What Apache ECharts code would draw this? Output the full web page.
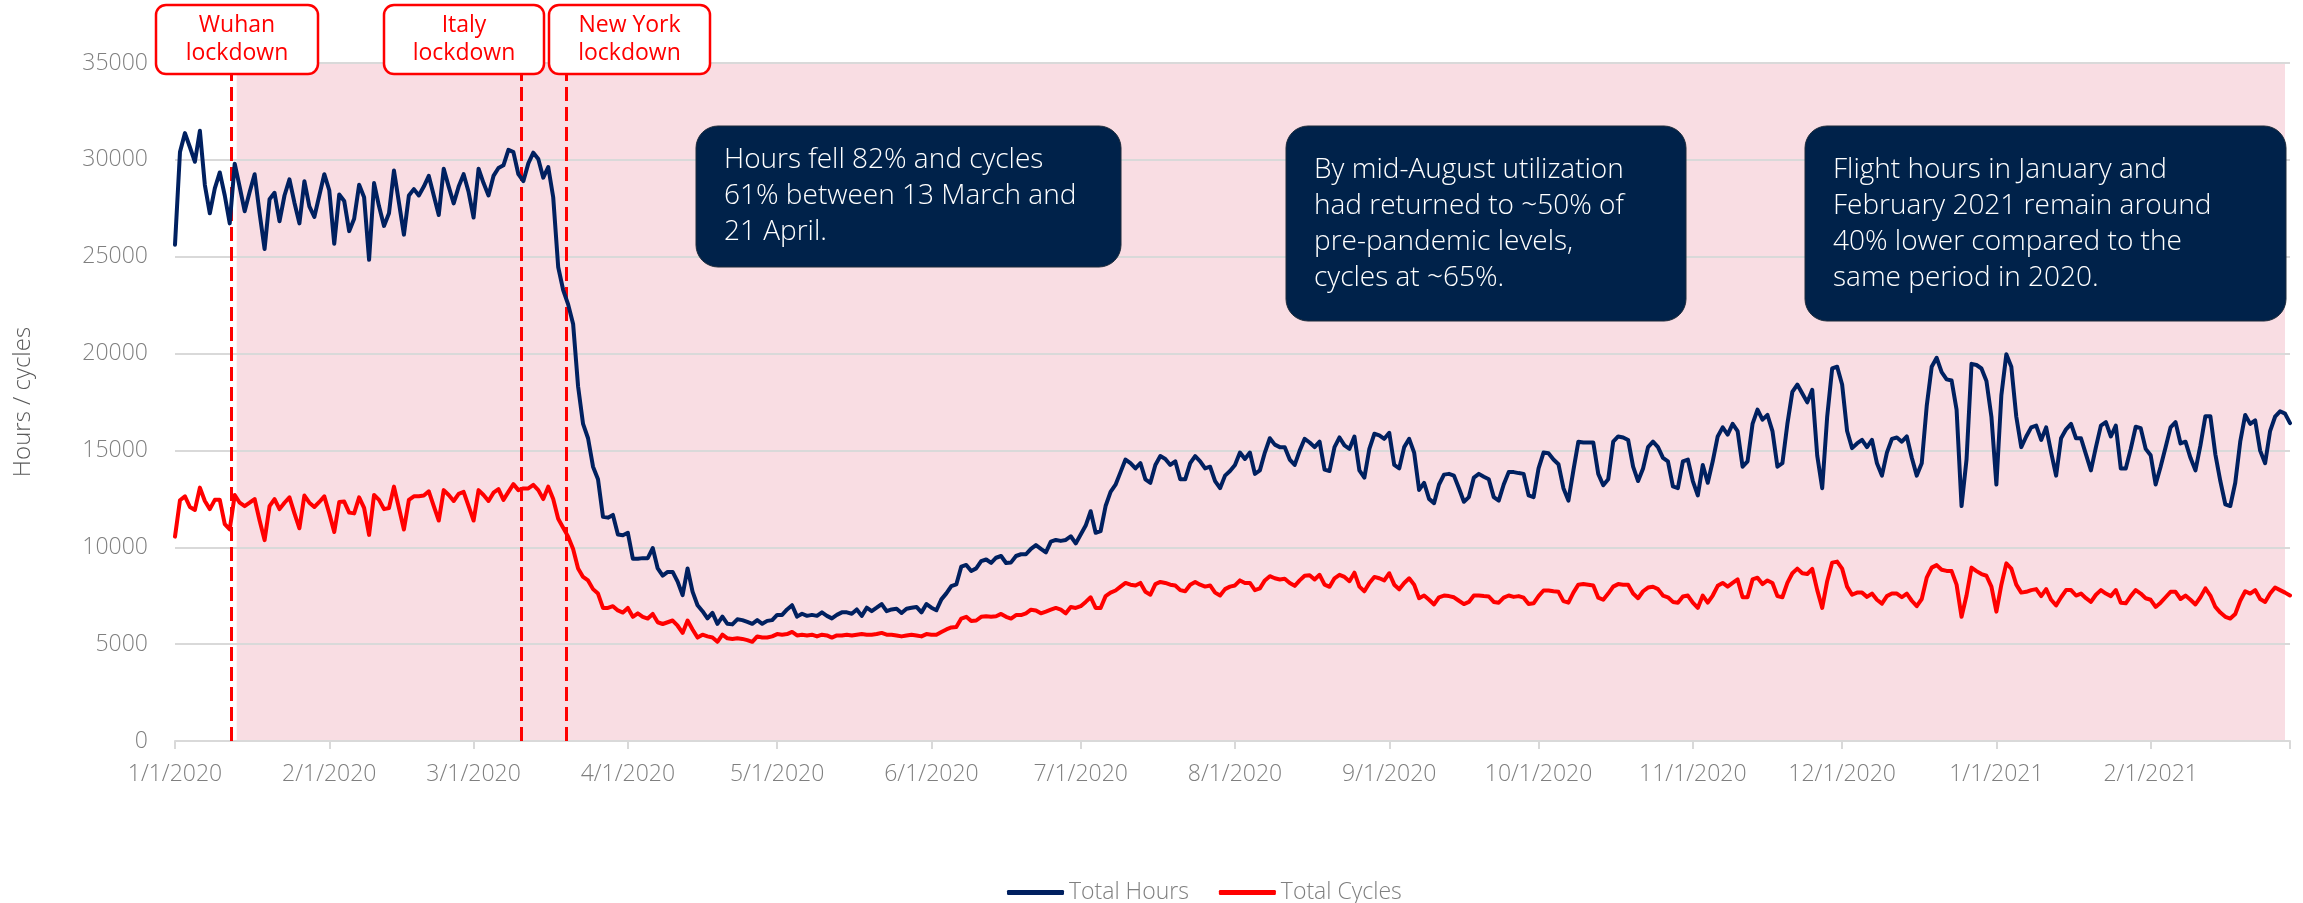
<!DOCTYPE html>
<html>
<head>
<meta charset="utf-8">
<title>Total Hours / Total Cycles</title>
<script src="https://cdn.jsdelivr.net/npm/echarts@6/dist/echarts.min.js"></script>
<style>
  html, body { margin: 0; padding: 0; background: #fff; }
  #main { width: 2303px; height: 903px; }
</style>
</head>
<body>
<div id="main"></div>
<script>
// 每日数据，第 0 天 = 2020-01-01
const hoursData = [
  25620, 30400, 31380, 30650, 29900, 31500, 28700, 27240, 28530, 29350, 28160, 26720, 29800, 28600, 27350, 28340,
  29260, 27240, 25400, 27970, 28300, 26830, 28160, 28990, 27790, 26720, 28900, 27600, 27050, 28160, 29260, 28430,
  25670, 28210, 27880, 26320, 26960, 28710, 28070, 24840, 28800, 27600, 26590, 27240, 29450, 27790, 26140, 28160,
  28490, 28160, 28620, 29170, 28160, 27150, 29540, 28620, 27750, 28620, 29260, 28340, 27020, 29540, 28800, 28160,
  29170, 29580, 29720, 30520, 30400, 29260, 28900,
  29820, 30370, 30040, 29080, 29630, 28070, 24470, 23280, 22540, 21530, 18300, 16370, 15630, 14160, 13510, 11580,
  11530, 11670, 10660, 10620, 10750, 9410, 9410, 9440, 9440, 9960, 8910, 8540, 8730, 8730, 8230, 7530,
  8910, 7710, 7010, 6700, 6330, 6610, 6050, 6420, 6050, 6020, 6280, 6240, 6150, 6050, 6240, 6050,
  6200, 6240, 6510, 6510, 6790, 7010, 6420, 6570, 6460, 6510, 6460, 6640, 6460, 6330, 6510, 6640,
  6640, 6570, 6790, 6460, 6880, 6700, 6880, 7070, 6700,
  6790, 6830, 6610, 6830, 6880, 6920, 6640, 7070, 6880, 6750, 7310, 7620, 7990, 8080, 9000, 9090,
  8780, 8910, 9280, 9370, 9190, 9460, 9550, 9190, 9220, 9550, 9640, 9640, 9920, 10110, 9920, 9740,
  10290, 10380, 10330, 10380, 10570, 10200, 10660, 11120, 11860, 10750, 10840, 12130, 12860, 13230, 13880, 14530,
  14340, 14070, 14340, 13510, 13330, 14250, 14710, 14560, 14250, 14440, 13510, 13510, 14340, 14710, 14440, 14070,
  14160, 13420, 13050, 13700, 13940, 14250, 14890,
  14560, 14890, 13790, 13970, 14890, 15630, 15300, 15170, 15170, 14530, 14250, 14990, 15600, 15410, 15170, 15450,
  14010, 13940, 15170, 15670, 15260, 15080, 15720, 13970, 13600, 15080, 15860, 15780, 15600, 15910, 14250, 14070,
  15170, 15600, 14890, 12960, 13330, 12500, 12280, 13240, 13750, 13790, 13700, 13050, 12350, 12590, 13600, 13790,
  13640, 13510, 12590, 12410, 13240, 13880, 13880, 13830, 13790, 12680, 12590, 14070, 14890, 14850, 14530, 14290,
  13050, 12410, 13970, 15450, 15410, 15410, 15410, 13790, 13200, 13510,
  15450, 15720, 15670, 15540, 14160, 13420, 14070, 15170, 15450, 15170, 14620, 14440, 13140, 13050, 14440, 14530,
  13420, 12680, 14250, 13330, 14440, 15720, 16190, 15820, 16370, 16000, 14160, 14440, 16370, 17110, 16590, 16830,
  16000, 14160, 14340, 16370, 18020, 18400, 17940, 17480, 18130, 14730, 13050, 16740, 19230, 19320, 18400, 16000,
  15120, 15360, 15540, 15170, 15540, 14340, 13700, 14890, 15600, 15670, 15450, 15720, 14620, 13700, 14340, 17290,
  19320, 19780, 19040, 18670, 18610, 17110,
  12130, 14530, 19470, 19410, 19230, 18580, 16740, 13240, 17850, 19960, 19320, 16740, 15170, 15720, 16190, 16280,
  15540, 16190, 14900, 13700, 15630, 16090, 16370, 15630, 15630, 14800, 13970, 15170, 16280, 16460, 15720, 16280,
  14070, 14070, 15080, 16220, 16150, 15080, 14750, 13240, 14160, 15170, 16190, 16460, 15360, 15450, 14620, 13970,
  15260, 16770, 16770, 14800, 13420, 12220, 12130, 13330, 15450, 16830, 16370, 16550, 14990, 14340, 16000, 16740,
  17020, 16900, 16410
]
const cyclesData = [
  10550, 12430, 12630, 12080, 11930, 13080, 12390, 11970, 12450, 12450, 11200, 10920, 12700, 12300, 12120, 12300,
  12490, 11380, 10370, 12120, 12490, 11970, 12300, 12580, 11750, 10980, 12670, 12300, 12080, 12340, 12630, 11750,
  10790, 12340, 12360, 11790, 11750, 12580, 12030, 10640, 12700, 12450, 11970, 12030, 13130, 12030, 10920, 12450,
  12630, 12630, 12670, 12890, 12120, 11380, 12950, 12700, 12390, 12760, 12860, 12120, 11380, 12950, 12700, 12390,
  12820, 13000, 12450, 12860, 13260, 12950, 13040,
  13040, 13220, 12950, 12490, 13130, 12490, 11470, 11010, 10550, 9910, 8900, 8470, 8290, 7840, 7610, 6870,
  6870, 6960, 6740, 6630, 6870, 6410, 6590, 6410, 6320, 6560, 6130, 6040, 6130, 6220, 5950, 5580,
  6220, 5760, 5340, 5490, 5400, 5340, 5120, 5490, 5300, 5270, 5300, 5270, 5210, 5120, 5400, 5340,
  5340, 5400, 5520, 5490, 5520, 5630, 5450, 5490, 5450, 5490, 5400, 5490, 5450, 5340, 5450, 5450,
  5490, 5450, 5490, 5520, 5490, 5490, 5520, 5580, 5490,
  5490, 5450, 5400, 5450, 5490, 5450, 5400, 5520, 5490, 5490, 5630, 5760, 5860, 5890, 6320, 6410,
  6190, 6220, 6410, 6440, 6410, 6440, 6560, 6410, 6320, 6500, 6500, 6590, 6780, 6740, 6590, 6680,
  6780, 6870, 6780, 6590, 6920, 6870, 6960, 7180, 7420, 6870, 6870, 7480, 7660, 7770, 7970, 8160,
  8070, 8030, 8160, 7700, 7550, 8100, 8210, 8160, 8070, 8030, 7790, 7730, 8070, 8210, 8070, 7970,
  8030, 7660, 7510, 7840, 7970, 8030, 8290,
  8160, 8160, 7790, 7880, 8290, 8510, 8400, 8340, 8380, 8160, 8010, 8290, 8530, 8560, 8340, 8580,
  8070, 7960, 8400, 8580, 8470, 8250, 8690, 7970, 7730, 8160, 8470, 8400, 8290, 8660, 8070, 7830,
  8160, 8400, 8070, 7370, 7510, 7290, 7050, 7420, 7510, 7480, 7420, 7240, 7070, 7180, 7510, 7510,
  7480, 7460, 7180, 7140, 7400, 7510, 7440, 7480, 7400, 7070, 7110, 7480, 7770, 7770, 7730, 7700,
  7220, 7140, 7660, 8070, 8100, 8070, 8030, 7400, 7290, 7610,
  7970, 8100, 8070, 8070, 7610, 7370, 7730, 7920, 7960, 7840, 7510, 7420, 7180, 7140, 7460, 7510,
  7140, 6870, 7510, 7140, 7510, 8010, 8160, 7970, 8160, 8340, 7420, 7420, 8340, 8430, 8100, 8290,
  8160, 7480, 7420, 8160, 8660, 8900, 8660, 8620, 8880, 7790, 6870, 8250, 9210, 9260, 8900, 7970,
  7550, 7660, 7660, 7440, 7610, 7290, 7090, 7480, 7610, 7610, 7420, 7610, 7240, 6960, 7330, 8430,
  8950, 9080, 8840, 8780, 8770, 8070,
  6410, 7510, 8950, 8770, 8620, 8530, 7970, 6680, 8070, 9170, 8900, 8070, 7660, 7700, 7790, 7840,
  7480, 7840, 7290, 7000, 7420, 7790, 7790, 7510, 7610, 7370, 7180, 7550, 7790, 7610, 7480, 7790,
  7140, 7110, 7480, 7790, 7610, 7370, 7290, 6920, 7140, 7420, 7700, 7700, 7330, 7510, 7290, 7050,
  7420, 7880, 7510, 6920, 6630, 6410, 6320, 6560, 7240, 7730, 7610, 7790, 7330, 7180, 7610, 7920,
  7790, 7660, 7510
]

// 月初刻度（距 2020-01-01 的天数）
const tickDays = [0, 31, 60, 91, 121, 152, 182, 213, 244, 274, 305, 335, 366, 397]
const tickLabels = ['1/1/2020', '2/1/2020', '3/1/2020', '4/1/2020', '5/1/2020', '6/1/2020', '7/1/2020',
  '8/1/2020', '9/1/2020', '10/1/2020', '11/1/2020', '12/1/2020', '1/1/2021', '2/1/2021']
const axisEndDay = 425

// 封城事件
const lockdownNames = ['Wuhan\nlockdown', 'Italy\nlockdown', 'New York\nlockdown']
const lockdownDays = [11.4, 69.6, 78.6]
const shadeRange = [12.4, 424]

// 说明文字
const noteTexts = [
  'Hours fell 82% and cycles\n61% between 13 March and\n21 April.',
  'By mid-August utilization\nhad returned to ~50% of\npre-pandemic levels,\ncycles at ~65%.',
  'Flight hours in January and\nFebruary 2021 remain around\n40% lower compared to the\nsame period in 2020.'
]

const fontName = '"Open Sans", "Noto Sans", sans-serif'
const chartInstane = echarts.init(document.getElementById('main'), null, { renderer: 'canvas' })

// 标注框（像素位置）
const lockBoxes = [
  { x: 156, y: 5, w: 162, h: 69 },
  { x: 384, y: 5, w: 160, h: 69 },
  { x: 549, y: 5, w: 161, h: 69 }
]
const noteBoxes = [
  { x: 696, y: 126, w: 425, h: 141, ty: 142 },
  { x: 1286, y: 126, w: 400, h: 195, ty: 152 },
  { x: 1805, y: 126, w: 481, h: 195, ty: 152 }
]

const graphicList = []
lockBoxes.forEach((b, i) => {
  graphicList.push({
    type: 'rect',
    z: 100,
    shape: { x: b.x, y: b.y, width: b.w, height: b.h, r: 10 },
    style: { fill: '#ffffff', stroke: '#ff0000', lineWidth: 2.5 }
  })
  graphicList.push({
    type: 'text',
    z: 101,
    style: {
      x: b.x + b.w / 2,
      y: b.y + b.h / 2,
      text: lockdownNames[i],
      fill: '#ff0000',
      font: '23px ' + fontName,
      lineHeight: 28,
      align: 'center',
      verticalAlign: 'middle'
    }
  })
})
noteBoxes.forEach((b, i) => {
  graphicList.push({
    type: 'rect',
    z: 100,
    shape: { x: b.x, y: b.y, width: b.w, height: b.h, r: 22 },
    style: { fill: '#00224a', stroke: '#1c2a3a', lineWidth: 1 }
  })
  graphicList.push({
    type: 'text',
    z: 101,
    style: {
      x: b.x + 28,
      y: b.ty,
      text: noteTexts[i],
      fill: '#ffffff',
      font: '300 28px ' + fontName,
      lineHeight: 36,
      align: 'left',
      verticalAlign: 'top'
    }
  })
})

const option = {
  backgroundColor: '#ffffff',
  animation: false,
  grid: {
    left: 175,
    right: 13,
    top: 63,
    bottom: 162
  },
  legend: {
    left: 1002,
    top: 876,
    icon: 'roundRect',
    itemWidth: 57,
    itemHeight: 5,
    itemGap: 30,
    textStyle: {
      fontFamily: fontName,
      fontWeight: 300,
      fontSize: 23,
      color: '#7f7f7f'
    },
    data: ['Total Hours', 'Total Cycles']
  },
  xAxis: {
    type: 'value',
    min: 0,
    max: axisEndDay,
    z: 3,
    splitLine: { show: false },
    axisLine: { lineStyle: { color: '#d9d9d9', width: 2 } },
    axisTick: {
      customValues: tickDays.concat([axisEndDay]),
      length: 8,
      lineStyle: { color: '#d9d9d9', width: 2 }
    },
    axisLabel: {
      customValues: tickDays,
      margin: 22,
      fontFamily: fontName,
      fontWeight: 300,
      fontSize: 23,
      color: '#7f7f7f',
      formatter: val => tickLabels[tickDays.indexOf(val)] || ''
    }
  },
  yAxis: {
    type: 'value',
    min: 0,
    max: 35000,
    interval: 5000,
    z: 3,
    name: 'Hours / cycles',
    nameLocation: 'middle',
    nameGap: 140,
    nameTextStyle: {
      fontFamily: fontName,
      fontWeight: 300,
      fontSize: 24,
      color: '#595959'
    },
    axisLine: { show: false },
    axisTick: { show: false },
    axisLabel: {
      margin: 27,
      fontFamily: fontName,
      fontWeight: 300,
      fontSize: 23,
      color: '#7f7f7f',
      formatter: val => String(val)
    },
    splitLine: { lineStyle: { color: '#d9d9d9', width: 2 } }
  },
  series: [
    {
      name: 'Total Hours',
      type: 'line',
      symbol: 'none',
      z: 5,
      data: hoursData.map((v, i) => [i, v]),
      lineStyle: { color: '#002060', width: 4, join: 'round', cap: 'round' },
      itemStyle: { color: '#002060' },
      markArea: {
        silent: true,
        z: 1,
        itemStyle: { color: '#f9dde3' },
        data: [[{ xAxis: shadeRange[0] }, { xAxis: shadeRange[1] }]]
      }
    },
    {
      name: 'Total Cycles',
      type: 'line',
      symbol: 'none',
      z: 5,
      data: cyclesData.map((v, i) => [i, v]),
      lineStyle: { color: '#ff0000', width: 4, join: 'round', cap: 'round' },
      itemStyle: { color: '#ff0000' },
      markLine: {
        silent: true,
        symbol: 'none',
        label: { show: false },
        lineStyle: { color: '#ff0000', width: 3, type: [14, 6] },
        data: lockdownDays.map(d => ({ xAxis: d }))
      }
    }
  ],
  graphic: graphicList
}

chartInstane.setOption(option)
</script>
</body>
</html>
